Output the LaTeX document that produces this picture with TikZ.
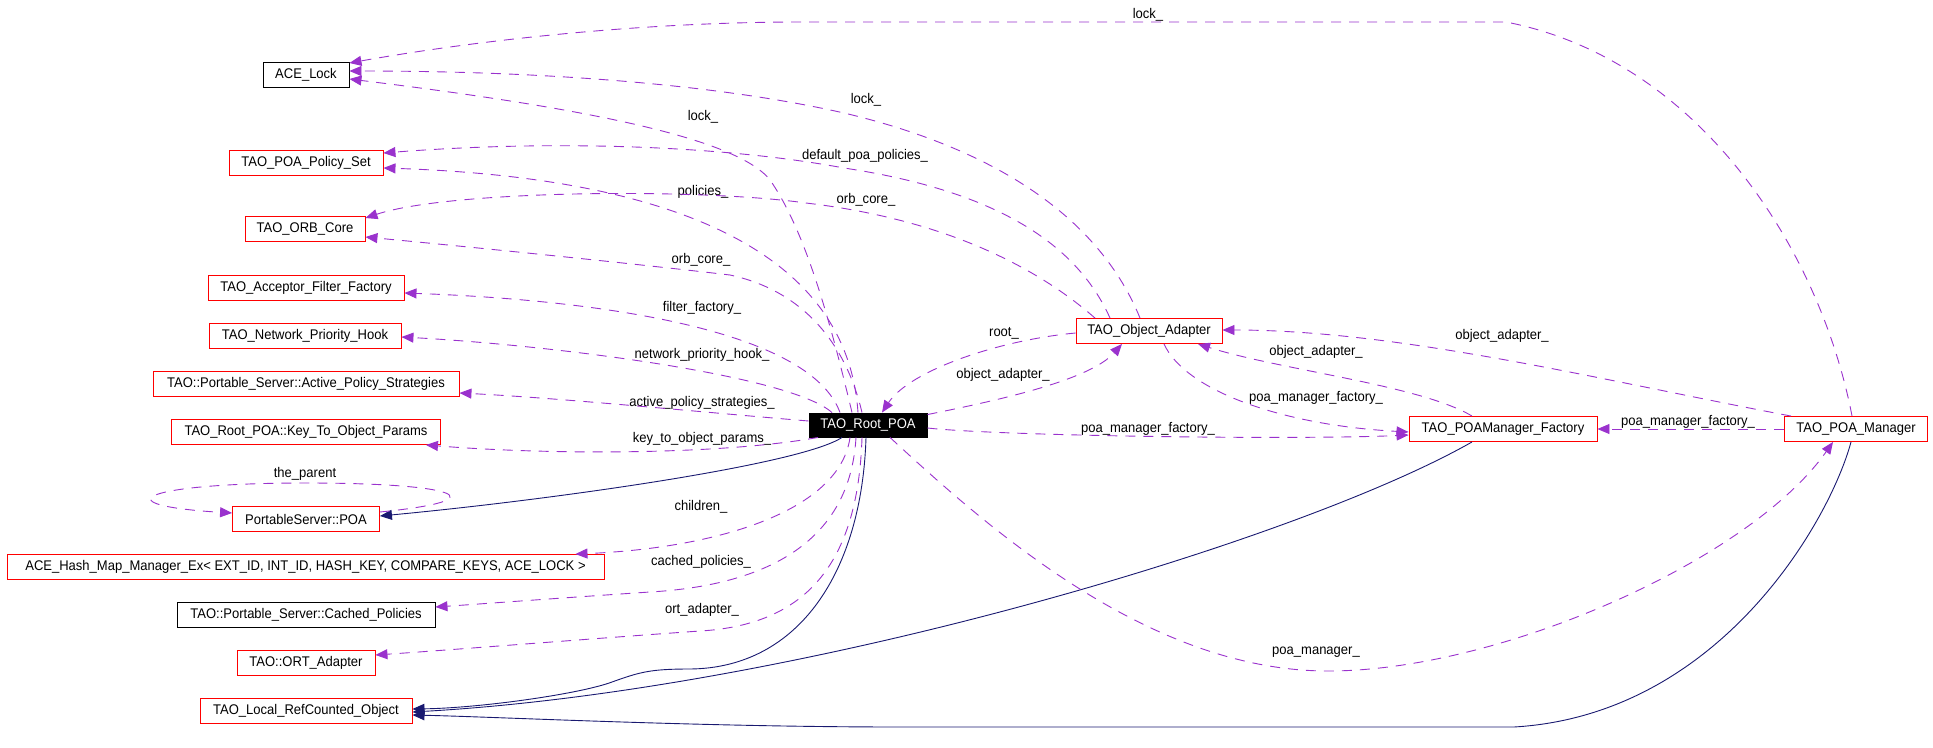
\documentclass[tikz,border=0pt]{standalone}
\usepackage{fontspec}
\setmainfont{Liberation Sans}[FakeStretch=0.93]
\usetikzlibrary{arrows.meta,calc}
\definecolor{depcol}{RGB}{154,50,205}
\definecolor{inhcol}{RGB}{25,25,112}
\begin{document}
\begin{tikzpicture}[x=1pt,y=-1pt,font=\fontsize{14pt}{16pt}\selectfont,
  box/.style={draw=red,line width=0.9pt,rectangle,minimum height=25pt,inner sep=0pt},
  bbox/.style={box,draw=black},
  lbl/.style={inner sep=0pt},
  dep/.style={draw=depcol,line width=0.9pt,dash pattern=on 10pt off 8pt,-{Triangle[length=12pt,width=10pt]},fill=none},
  inh/.style={draw=inhcol,line width=0.9pt,-{Triangle[length=12pt,width=10pt]}}]
\useasboundingbox (0,0) rectangle (1933,747);
% nodes
\node[bbox,minimum width=86pt] (lock) at (306,75) {ACE\_Lock};
\node[box,minimum width=154pt] (pset) at (306,163) {TAO\_POA\_Policy\_Set};
\node[box,minimum width=120pt] (orb) at (305,229) {TAO\_ORB\_Core};
\node[box,minimum width=196pt] (aff) at (306,288) {TAO\_Acceptor\_Filter\_Factory};
\node[box,minimum width=192pt] (nph) at (305,336) {TAO\_Network\_Priority\_Hook};
\node[box,minimum width=306pt] (aps) at (306,384) {TAO::Portable\_Server::Active\_Policy\_Strategies};
\node[box,minimum width=269pt] (ktop) at (306,432) {TAO\_Root\_POA::Key\_To\_Object\_Params};
\node[box,minimum width=147pt] (psp) at (306,519) {PortableServer::POA};
\node[box,minimum width=597pt] (hash) at (305.5,567) {ACE\_Hash\_Map\_Manager\_Ex< EXT\_ID, INT\_ID, HASH\_KEY, COMPARE\_KEYS, ACE\_LOCK >};
\node[bbox,minimum width=258pt] (cp) at (306,615) {TAO::Portable\_Server::Cached\_Policies};
\node[box,minimum width=138pt] (ort) at (306,663) {TAO::ORT\_Adapter};
\node[box,minimum width=212pt] (lrc) at (306,711) {TAO\_Local\_RefCounted\_Object};
\node[box,draw=black,fill=black,text=white,minimum width=118pt,minimum height=24pt] (root) at (868,425) {TAO\_Root\_POA};
\node[box,minimum width=146pt] (oa) at (1149,331) {TAO\_Object\_Adapter};
\node[box,minimum width=188pt] (pmf) at (1503,429) {TAO\_POAManager\_Factory};
\node[box,minimum width=143pt] (pm) at (1856,429) {TAO\_POA\_Manager};
% edge labels
\node[lbl] (t1) at (1148,15) {lock\_};
\node[lbl] (t2) at (866,100) {lock\_};
\node[lbl] (t3) at (703,117) {lock\_};
\node[lbl] (t4) at (865,156) {default\_poa\_policies\_};
\node[lbl] (t5) at (703,192) {policies\_};
\node[lbl] (t6) at (866,200) {orb\_core\_};
\node[lbl] (t7) at (701,260) {orb\_core\_};
\node[lbl] (t8) at (702,308) {filter\_factory\_};
\node[lbl] (t9) at (702,355) {network\_priority\_hook\_};
\node[lbl] (t10) at (702,403) {active\_policy\_strategies\_};
\node[lbl] (t11) at (702,439) {key\_to\_object\_params\_};
\node[lbl] (t12) at (305,474) {the\_parent};
\node[lbl] (t13) at (701,507) {children\_};
\node[lbl] (t14) at (701,562) {cached\_policies\_};
\node[lbl] (t15) at (702,610) {ort\_adapter\_};
\node[lbl] (t16) at (1004,333) {root\_};
\node[lbl] (t17) at (1003,375) {object\_adapter\_};
\node[lbl] (t18) at (1148,429) {poa\_manager\_factory\_};
\node[lbl] (t19) at (1316,398) {poa\_manager\_factory\_};
\node[lbl] (t20) at (1316,352) {object\_adapter\_};
\node[lbl] (t21) at (1502,336) {object\_adapter\_};
\node[lbl] (t22) at (1688,422) {poa\_manager\_factory\_};
\node[lbl] (t23) at (1316,652) {poa\_manager\_};
% edges to ACE_Lock
\draw[dep] ($(root.north)+(-16,0)$) .. controls (830,320) and (805,230) .. (770,180) .. controls (735,135) and (560,105) .. ($(lock.east)+(0,4)$);
\draw[dep] ($(oa.north)+(-9,0)$) .. controls (1100,220) and (1000,150) .. (844,113) .. controls (720,85) and (550,71) .. ($(lock.east)+(0,-4)$);
\draw[dep] ($(pm.north)+(-4,0)$) .. controls (1820,250) and (1700,60) .. (1506,22) -- (802,22) .. controls (620,22) and (450,45) .. ($(lock.east)+(0,-12)$);
% to POA_Policy_Set
\draw[dep] ($(oa.north)+(-39,0)$) .. controls (1075,240) and (990,190) .. (844,168) .. controls (720,145) and (550,140) .. ($(pset.east)+(0,-10)$);
\draw[dep] ($(root.north)+(-10,0)$) .. controls (845,220) and (600,175) .. ($(pset.east)+(0,5)$);
% to ORB_Core
\draw[dep] ($(oa.north)+(-54,0)$) .. controls (1040,270) and (950,220) .. (806,203) .. controls (700,188) and (450,190) .. ($(orb.east)+(0,-11)$);
\draw[dep] ($(root.north)+(-6,0)$) .. controls (845,340) and (800,290) .. (730,275) .. controls (620,262) and (450,245) .. ($(orb.east)+(0,8)$);
% others from Root_POA
\draw[dep] ($(root.north)+(-28,0)$) .. controls (810,330) and (600,300) .. ($(aff.east)+(0,5)$);
\draw[dep] ($(root.north)+(-36,0)$) .. controls (790,375) and (550,345) .. ($(nph.east)+(0,1)$);
\draw[dep] ($(root.west)+(0,-4)$) .. controls (700,412) and (560,398) .. ($(aps.east)+(0,9)$);
\draw[dep] ($(root.south)+(-50,0)$) .. controls (720,455) and (550,455) .. ($(ktop.south east)+(-15,0)$);
\draw[inh] ($(root.south)+(-26,0)$) .. controls (800,465) and (550,500) .. ($(psp.east)+(0,-3)$);
\draw[dep] ($(psp.east)+(0,-7)$) .. controls (500,500) and (460,483) .. (306,483) .. controls (140,483) and (100,505) .. ($(psp.west)+(0,-6)$);
\draw[dep] ($(root.south)+(-18,0)$) .. controls (840,510) and (720,548) .. ($(hash.north east)+(-29,0)$);
\draw[dep] ($(root.south)+(-12,0)$) .. controls (850,540) and (770,585) .. (650,592) .. controls (560,598) and (480,604) .. ($(cp.east)+(0,-8)$);
\draw[dep] ($(root.south)+(-6,0)$) .. controls (858,565) and (805,625) .. (700,631) .. controls (600,638) and (450,650) .. ($(ort.east)+(0,-8)$);
% inheritance to TAO_Local_RefCounted_Object
\draw[inh] ($(root.south)+(-2,0)$) .. controls (862,570) and (800,668) .. (690,669) .. controls (650,669) and (640,672) .. (612,682) .. controls (580,694) and (480,708) .. ($(lrc.east)+(0,-2)$);
\draw[inh] ($(pmf.south)+(-31,0)$) .. controls (1300,540) and (800,690) .. ($(lrc.east)+(0,1)$);
\draw[inh] ($(pm.south)+(-5,0)$) .. controls (1830,520) and (1720,715) .. (1514,727) -- (900,727) .. controls (700,727) and (500,717) .. ($(lrc.east)+(0,4)$);
% right part
\draw[dep] ($(root.south)+(22,0)$) .. controls (990,530) and (1150,671) .. (1328,671) .. controls (1500,671) and (1750,560) .. ($(pm.south)+(-23,0)$);
\draw[dep] ($(root.east)+(0,3)$) .. controls (1000,436) and (1300,440) .. ($(pmf.west)+(0,6)$);
\draw[dep] ($(oa.west)+(0,2)$) .. controls (1000,340) and (910,370) .. ($(root.north)+(14,0)$);
\draw[dep] ($(root.north east)+(0,2)$) .. controls (1000,400) and (1090,380) .. ($(oa.south)+(-27,0)$);
\draw[dep] ($(oa.south)+(15,0)$) .. controls (1185,390) and (1280,425) .. ($(pmf.west)+(0,3)$);
\draw[dep] ($(pmf.north)+(-31,0)$) .. controls (1420,385) and (1280,370) .. ($(oa.south)+(49,0)$);
\draw[dep] ($(pm.north west)+(7,0)$) .. controls (1600,380) and (1400,330) .. ($(oa.east)+(0,-1)$);
\draw[dep] (pm.west) -- (pmf.east);
\end{tikzpicture}
\end{document}
